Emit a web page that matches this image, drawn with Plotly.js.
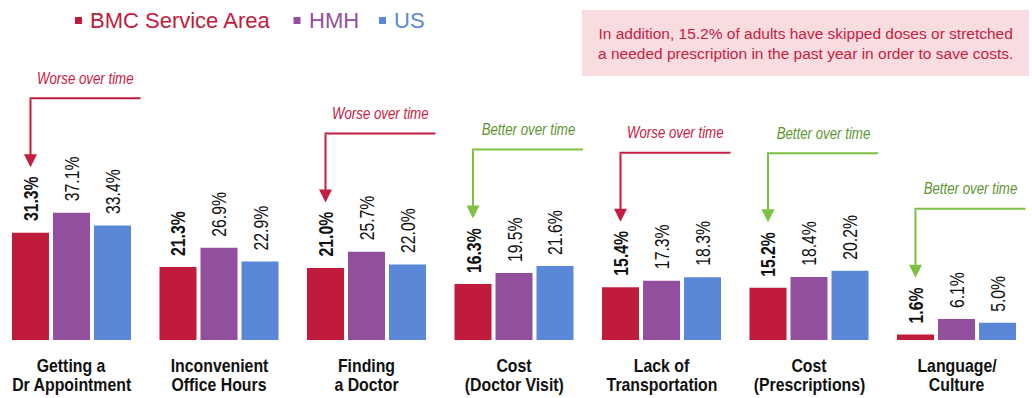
<!DOCTYPE html>
<html><head><meta charset="utf-8">
<script src="https://cdn.plot.ly/plotly-3.0.1.min.js"></script>
<style>html,body{margin:0;padding:0;background:#fff;overflow:hidden}</style>
</head><body>
<div id="chart" style="width:1032px;height:398px"></div>
<script>
// ---------- data ----------
const categories = ["Getting a<br>Dr Appointment", "Inconvenient<br>Office Hours", "Finding<br>a Doctor", "Cost<br>(Doctor Visit)", "Lack of<br>Transportation", "Cost<br>(Prescriptions)", "Language/<br>Culture"];
const seriesNames = ["BMC Service Area", "HMH", "US"];
const bmc = [31.3, 21.3, 21.0, 16.3, 15.4, 15.2, 1.6];
const hmh = [37.1, 26.9, 25.7, 19.5, 17.3, 18.4, 6.1];
const us  = [33.4, 22.9, 22.0, 21.6, 18.3, 20.2, 5.0];
const trends = ["Worse", "", "Worse", "Better", "Worse", "Better", "Better"];
const noteText = "In addition, 15.2% of adults have skipped doses or stretched<br>a needed prescription in the past year in order to save costs.";

// ---------- styling ----------
const W = 1032, H = 398, PB = 58, PH = H - PB;
const colors = ["#c01b3b", "#924f9e", "#5b87d8"];
const trendColors = {Worse: {line: "#c41d3f", text: "#c8203f"}, Better: {line: "#7cc143", text: "#5e9430"}};
const ARIAL = '"Liberation Sans", Arial, Helvetica, sans-serif';
const pxPerUnit = 3.43;
const series = [bmc, hmh, us];
const bargap = 0.166;
const slot = (1 - bargap) / 3;
const offs = [-slot, 0, slot];
const px = v => v / W;
const py = v => (PH - v) / PH;

const traces = series.map((vals, s) => ({
  type: 'bar', x: categories, y: vals, name: seriesNames[s],
  marker: {color: colors[s], line: {width: 0}}, showlegend: false, hoverinfo: 'skip'
}));

const annotations = [];
const shapes = [];
const narrowMap = {}; // annotation index -> [scaleX, origin]
function addAnn(a, narrow) {
  if (narrow) narrowMap[annotations.length] = narrow;
  annotations.push(a);
}

// value labels
series.forEach((vals, s) => {
  vals.forEach((v, i) => {
    const t = v.toFixed(1) + '%';
    addAnn({
      x: i + offs[s], y: v, xref: 'x', yref: 'y', text: s === 0 ? '<b>' + t + '</b>' : t,
      showarrow: false, textangle: -90, xanchor: 'center', yanchor: 'bottom', yshift: 10,
      font: {family: ARIAL, size: 20.5, color: '#111'}, borderpad: 0
    }, [0.77, 'left center']);
  });
});

// category labels
categories.forEach((c, i) => {
  c.split('<br>').forEach((line, k) => {
    addAnn({
      x: i, y: 0, xref: 'x', yref: 'paper', text: '<b>' + line + '</b>', showarrow: false,
      xanchor: 'center', yanchor: 'middle', yshift: -(25.5 + 19 * k), borderpad: 0,
      font: {family: ARIAL, size: 18, color: '#111'}
    }, [0.88, 'center']);
  });
});

// trend callouts
trends.forEach((tr, i) => {
  if (!tr) return;
  const v = bmc[i];
  const nch = (v.toFixed(1) + '%').length;
  const standoff = 22 + 8.7 * nch;
  const rise = standoff + 69;
  const c = trendColors[tr];
  const xb = i + offs[0];
  shapes.push({
    type: 'line', xref: 'x', yref: 'y', xsizemode: 'pixel', ysizemode: 'pixel',
    xanchor: xb, yanchor: v, x0: -1, x1: 110, y0: rise, y1: rise,
    line: {color: c.line, width: 2}
  });
  addAnn({
    x: xb, y: v, xref: 'x', yref: 'y', ax: 0, ay: -rise, text: ' ', showarrow: true,
    arrowhead: 2, arrowsize: 1.3, arrowwidth: 2, arrowcolor: c.line, standoff: standoff,
    font: {size: 1}, borderpad: 0
  });
  addAnn({
    x: xb, y: v, xref: 'x', yref: 'y', xshift: 55, yshift: rise + 20, showarrow: false,
    text: '<i>' + tr + ' over time</i>', xanchor: 'center', yanchor: 'middle',
    font: {family: ARIAL, size: 16, color: c.text}
  }, [0.83, 'center']);
});

// legend (drawn)
const legendItems = [{sq: 75, tx: 89}, {sq: 293.5, tx: 308}, {sq: 379, tx: 392.5}];
seriesNames.forEach((n, s) => {
  shapes.push({type: 'rect', xref: 'paper', yref: 'paper', x0: px(legendItems[s].sq), x1: px(legendItems[s].sq + 7),
    y0: py(24), y1: py(17), fillcolor: colors[s], line: {width: 0}});
  addAnn({x: px(legendItems[s].tx), y: py(20), xref: 'paper', yref: 'paper', text: n, showarrow: false,
    xanchor: 'left', yanchor: 'middle', font: {family: ARIAL, size: 22, color: colors[s]}, borderpad: 0});
});

// note box
shapes.push({type: 'rect', xref: 'paper', yref: 'paper', x0: px(582), x1: px(1029), y0: py(76), y1: py(10),
  fillcolor: '#f9dcdf', line: {width: 0}, layer: 'below'});
addAnn({x: px(805.5), y: py(44), xref: 'paper', yref: 'paper', text: noteText, showarrow: false,
  xanchor: 'center', yanchor: 'middle', align: 'center', font: {family: ARIAL, size: 15.5, color: '#c8203f'}});

const layout = {
  width: W, height: H, margin: {l: 0, r: 0, t: 0, b: PB},
  paper_bgcolor: '#fff', plot_bgcolor: '#fff',
  barmode: 'group', bargap: bargap, bargroupgap: 0.0976,
  xaxis: {type: 'category', range: [-71.5 / 147.5, (W - 71.5) / 147.5], showticklabels: false,
    showgrid: false, zeroline: false, showline: false, ticks: ''},
  yaxis: {range: [0, PH / pxPerUnit], visible: false, showgrid: false, zeroline: false},
  showlegend: false, annotations: annotations, shapes: shapes
};
Plotly.newPlot('chart', traces, layout, {staticPlot: true, displayModeBar: false}).then(gd => {
  // emulate the condensed (narrow) typeface of the original
  gd.querySelectorAll('g.annotation').forEach(g => {
    const idx = +g.getAttribute('data-index');
    const n = narrowMap[idx];
    if (!n) return;
    const t = g.querySelector('text.annotation-text');
    if (!t) return;
    t.style.transformBox = 'fill-box';
    t.style.transformOrigin = n[1];
    t.style.transform = 'scaleX(' + n[0] + ')';
  });
});
</script>
</body></html>
